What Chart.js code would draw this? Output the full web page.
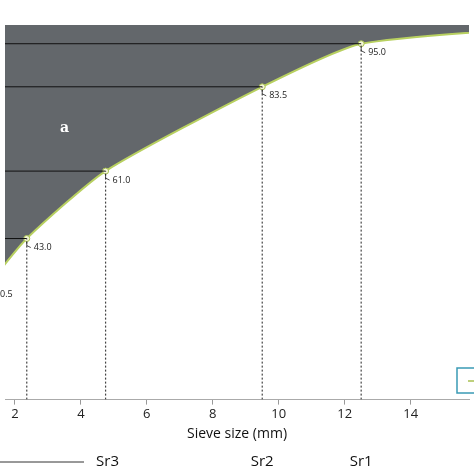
<!DOCTYPE html>
<html><head><meta charset="utf-8">
<script src="https://cdn.jsdelivr.net/npm/chart.js@4"></script>
<style>html,body{margin:0;padding:0;background:#fff}#w{width:474px;height:474px}</style>
</head><body><div id="w"><canvas id="c"></canvas></div>
<script>
const sieveSizes = [1.18, 2.36, 4.75, 9.5, 12.5, 19];
const passing = [30.5, 43.0, 61.0, 83.5, 95.0, 100];
const labeledCount = 5;
const xTicks = [2, 4, 6, 8, 10, 12, 14];
const markerNames = ['Sr3', 'Sr2', 'Sr1'];
const markerX = [4.75, 9.5, 12.5];

const curve = sieveSizes.map((x, i) => ({x, y: passing[i]}));
const datasets = [{
  data: curve, borderColor: '#b8d060', borderWidth: 2, backgroundColor: '#63676b',
  fill: 'end', tension: 0.2,
  pointRadius: curve.map((p, i) => i < labeledCount ? 3 : 0),
  pointBackgroundColor: '#f4f7d8', pointBorderColor: '#a8c050', pointBorderWidth: 1, order: 3
}];
for (let i = 0; i < labeledCount; i++) {
  datasets.push({data: [{x: 0, y: passing[i]}, {x: sieveSizes[i], y: passing[i]}], borderColor: '#111', borderWidth: 1, pointRadius: 0, fill: false, order: 1});
  datasets.push({data: [{x: sieveSizes[i], y: 0}, {x: sieveSizes[i], y: passing[i]}], borderColor: '#444', borderWidth: 1.2, borderDash: [2, 2], pointRadius: 0, fill: false, order: 2});
}

const extras = {
  id: 'extras',
  afterDatasetsDraw(chart) {
    const ctx = chart.ctx, xs = chart.scales.x, ys = chart.scales.y;
    ctx.save();
    ctx.font = '9px "Open Sans"';
    ctx.fillStyle = '#222'; ctx.strokeStyle = '#222'; ctx.lineWidth = 0.8;
    for (let i = 0; i < labeledCount; i++) {
      const px = xs.getPixelForValue(sieveSizes[i]), py = ys.getPixelForValue(passing[i]);
      ctx.beginPath(); ctx.moveTo(px, py + 3); ctx.lineTo(px, py + 7); ctx.lineTo(px + 4, py + 9); ctx.stroke();
      ctx.textBaseline = 'middle'; ctx.textAlign = 'left';
      ctx.fillText(passing[i].toFixed(1), px + 7, py + 9);
    }
    ctx.font = 'bold 14px "DejaVu Serif"'; ctx.fillStyle = '#fff';
    ctx.fillText('a', 60, 128);
    ctx.font = '15px "Open Sans"'; ctx.fillStyle = '#111'; ctx.textAlign = 'center';
    const my = 462;
    markerNames.forEach((n, i) => ctx.fillText(n, xs.getPixelForValue(markerX[i]) + (i === 0 ? 2 : 0), my));
    ctx.strokeStyle = '#333'; ctx.lineWidth = 1;
    ctx.beginPath(); ctx.moveTo(0, my); ctx.lineTo(84, my); ctx.stroke();
    ctx.strokeStyle = '#3a9ab5'; ctx.lineWidth = 1.5; ctx.strokeRect(457, 368, 30, 25);
    ctx.strokeStyle = '#a8c050'; ctx.beginPath(); ctx.moveTo(468, 381); ctx.lineTo(474, 381); ctx.stroke();
    ctx.restore();
  }
};

new Chart(document.getElementById('c'), {
  type: 'line', data: {datasets},
  options: {
    responsive: true, maintainAspectRatio: false, animation: false,
    layout: {padding: {left: -5, right: -5, top: 25, bottom: 28}},
    plugins: {legend: {display: false}, tooltip: {enabled: false}},
    scales: {
      x: {type: 'linear', min: 1.7, max: 15.77,
        afterBuildTicks: s => { s.ticks = xTicks.map(v => ({value: v})); },
        grid: {drawOnChartArea: false, tickLength: 5, color: '#999'},
        border: {color: '#aaa'},
        ticks: {font: {size: 13, family: '"Open Sans"'}, color: '#222', padding: 2},
        title: {display: true, text: 'Sieve size (mm)', font: {size: 14, family: '"Open Sans"'}, color: '#111', padding: {top: 1}}
      },
      y: {display: false, min: 0, max: 100}
    }
  },
  plugins: [extras]
});
</script></body></html>
